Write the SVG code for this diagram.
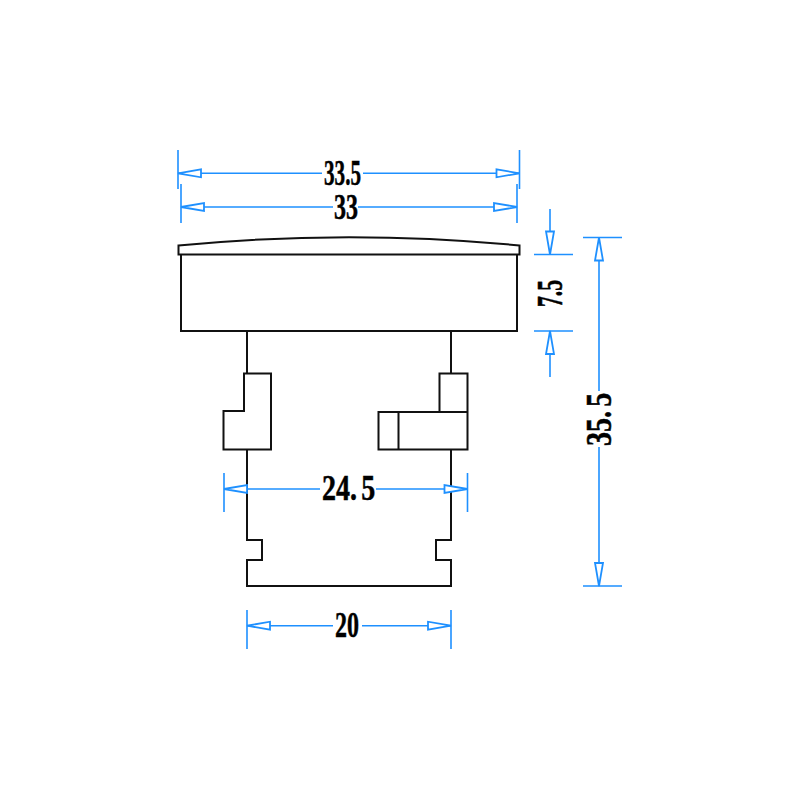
<svg xmlns="http://www.w3.org/2000/svg" width="800" height="800" viewBox="0 0 800 800">
<style>
.o{fill:none;stroke:#111;stroke-width:2;stroke-linejoin:miter}
.d{fill:none;stroke:#1e90ff;stroke-width:1.6}
.a{marker-end:url(#arr)}
.s{marker-start:url(#arr)}
.t{font-family:"Liberation Serif",serif;font-weight:bold;font-size:35px;fill:#000;stroke:#000;stroke-width:.5}
</style>
<defs>
<marker id="arr" markerUnits="userSpaceOnUse" markerWidth="30" markerHeight="14" refX="25" refY="6" orient="auto-start-reverse" overflow="visible">
<path d="M25 6L2 2V10Z" fill="#fff" stroke="#1e90ff" stroke-width="1.8"/>
</marker>
</defs>
<rect width="800" height="800" fill="#fff"/>
<g id="part">
<path class="o" d="M178.500 254.500V245.500Q349 229 519.500 245.500V254.500Z"/>
<path class="o" d="M181 254.500V331H517V254.500"/>
<path class="o" d="M247 331V373.500M451 331V373.500"/>
<path class="o" d="M244 373.500H271V449.500H223.500V411H244Z"/>
<path class="o" d="M439.500 412V373.500H467.500V449.500H378.500V412H467.500M398.500 412V449.500"/>
<path class="o" d="M247 449.500V540H262V560H247V586H451V560H436V540H451V449.500"/>
</g>
<g id="dimensions">
<path class="d" d="M178 150V189M519.500 150V189M181 184V223M517 184V223M224 473V512M467.500 473V512M247 610V649M451 610V649M534 254.500H573M534 331H573M583 237.500H622M583 586H622"/>
<path class="d s" d="M178 173.300H322"/><path class="d a" d="M363 173.300H519.500"/>
<path class="d s" d="M181 207H333"/><path class="d a" d="M358 207H517"/>
<path class="d s" d="M224 489H320"/><path class="d a" d="M376 489H467.500"/>
<path class="d s" d="M247 625.700H333"/><path class="d a" d="M362 625.700H451"/>
<path class="d a" d="M550 209V254.500"/><path class="d a" d="M550 377V331"/>
<path class="d s" d="M599 237.500V391"/><path class="d a" d="M599 447V586"/>
</g>
<g id="labels">
<text class="t" x="324" y="185" textLength="37" lengthAdjust="spacingAndGlyphs">33.5</text>
<text class="t" x="334" y="219" textLength="24" lengthAdjust="spacingAndGlyphs">33</text>
<text class="t" transform="translate(322 500) scale(.8 1)" x="0 17.500 35 49">24.5</text>
<text class="t" x="335" y="637" textLength="24" lengthAdjust="spacingAndGlyphs">20</text>
<text class="t" transform="translate(562 307) rotate(-90)" textLength="27" lengthAdjust="spacingAndGlyphs">7.5</text>
<text class="t" transform="translate(611 446) rotate(-90) scale(.8 1)" x="0 17.500 35 49">35.5</text>
</g>
</svg>
